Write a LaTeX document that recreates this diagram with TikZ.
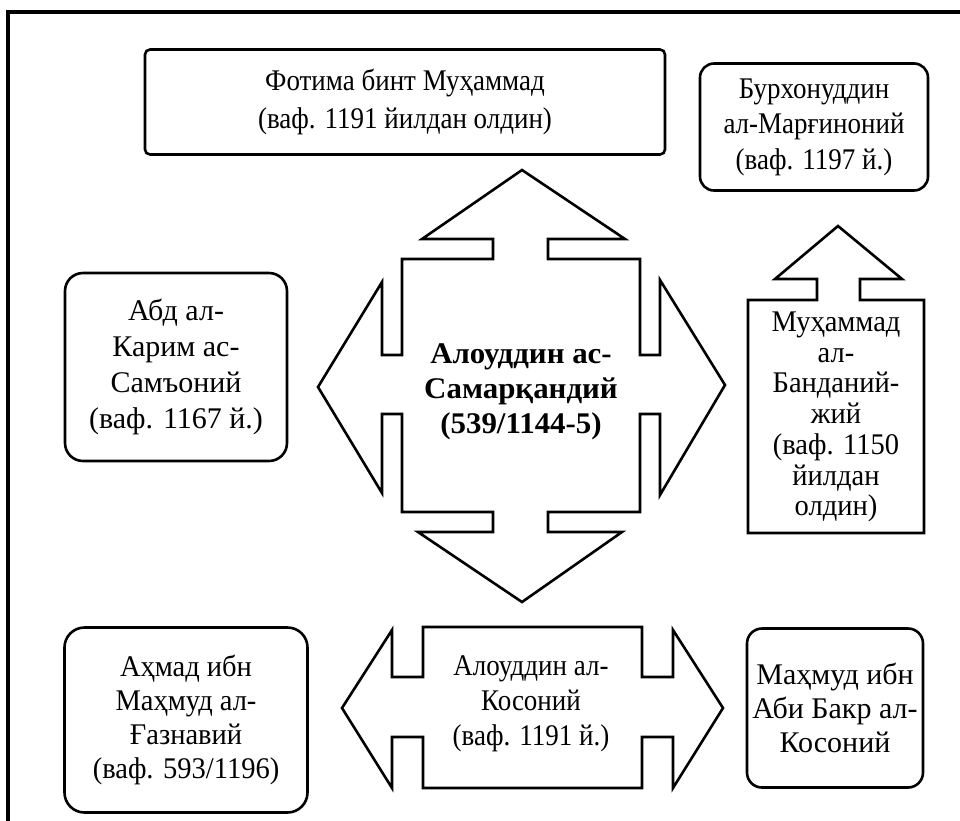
\documentclass[tikz,border=0pt]{standalone}
\usepackage{fontspec}
\setmainfont{Liberation Serif}
\newcommand{\boxfont}[3]{\fontsize{#1}{#2}\selectfont\addfontfeature{FakeStretch=#3}}
\tikzset{
  namebox/.style={draw,line width=2.6pt,align=center,inner sep=2pt},
  blockarrow/.style={draw,line width=2.6pt,line join=miter}
}
\begin{document}
\begin{tikzpicture}[x=1pt,y=-1pt]
\useasboundingbox (0,0) rectangle (960,820);
\draw[line width=4pt] (964,12) -- (8,12) -- (8,824);

\node[namebox,rounded corners=5pt,minimum width=520pt,minimum height=105pt,font=\boxfont{30}{38}{0.9}] (fotima) at (405,102) {Фотима бинт Муҳаммад\\(ваф. 1191 йилдан олдин)};
\node[namebox,rounded corners=14pt,minimum width=228pt,minimum height=127pt,font=\boxfont{30}{35.5}{0.9}] (burhon) at (814,127) {Бурхонуддин\\ал-Марғиноний\\(ваф. 1197 й.)};
\node[namebox,rounded corners=18pt,minimum width=222pt,minimum height=188pt,font=\boxfont{30}{36}{1.0}] (samoni) at (176,367) {Абд ал-\\Карим ас-\\Самъоний\\(ваф. 1167 й.)};
\node[namebox,rounded corners=20pt,minimum width=243pt,minimum height=185pt,font=\boxfont{30}{34}{0.95}] (ghaznavi) at (186,720) {Аҳмад ибн\\Маҳмуд ал-\\Ғазнавий\\(ваф. 593/1196)};
\node[namebox,rounded corners=15pt,minimum width=176pt,minimum height=159pt,font=\boxfont{30}{34}{1.0}] (abibakr) at (835,708) {Маҳмуд ибн\\Аби Бакр ал-\\Косоний};

\node[align=center,font=\bfseries\boxfont{30}{35}{1.03}] (samarqandi) at (521,392) {Алоуддин ас-\\Самарқандий\\(539/1144-5)};
\draw[blockarrow] (402,259) -- (493,259) -- (493,239) -- (422,239) -- (522,170) -- (625,239) -- (548,239) -- (548,259)
  -- (640,259) -- (640,355) -- (660,355) -- (660,280) -- (725,385) -- (660,495) -- (660,414) -- (640,414)
  -- (640,512) -- (548,512) -- (548,532) -- (622,532) -- (522,602) -- (418,532) -- (493,532) -- (493,512)
  -- (402,512) -- (402,414) -- (382,414) -- (382,493) -- (318,387) -- (382,282) -- (382,355) -- (402,355) -- cycle;

\node[align=center,font=\boxfont{30}{35}{0.9}] (kosoni) at (531,704) {Алоуддин ал-\\Косоний\\(ваф. 1191 й.)};
\draw[blockarrow] (423,627) -- (642,627) -- (642,677) -- (673,677) -- (673,630) -- (723,708) -- (673,788) -- (673,737)
  -- (642,737) -- (642,788) -- (423,788) -- (423,737) -- (392,737) -- (392,788) -- (342,708) -- (392,630)
  -- (392,677) -- (423,677) -- cycle;

\node[align=center,font=\boxfont{30}{30.7}{0.95}] (bandanij) at (836,417) {Муҳаммад\\ал-\\Банданий-\\жий\\(ваф. 1150\\йилдан\\олдин)};
\draw[blockarrow] (748,533) -- (748,300) -- (817,300) -- (817,279) -- (775,279) -- (838,226) -- (902,279) -- (860,279)
  -- (860,300) -- (924,300) -- (924,533) -- cycle;
\end{tikzpicture}
\end{document}
